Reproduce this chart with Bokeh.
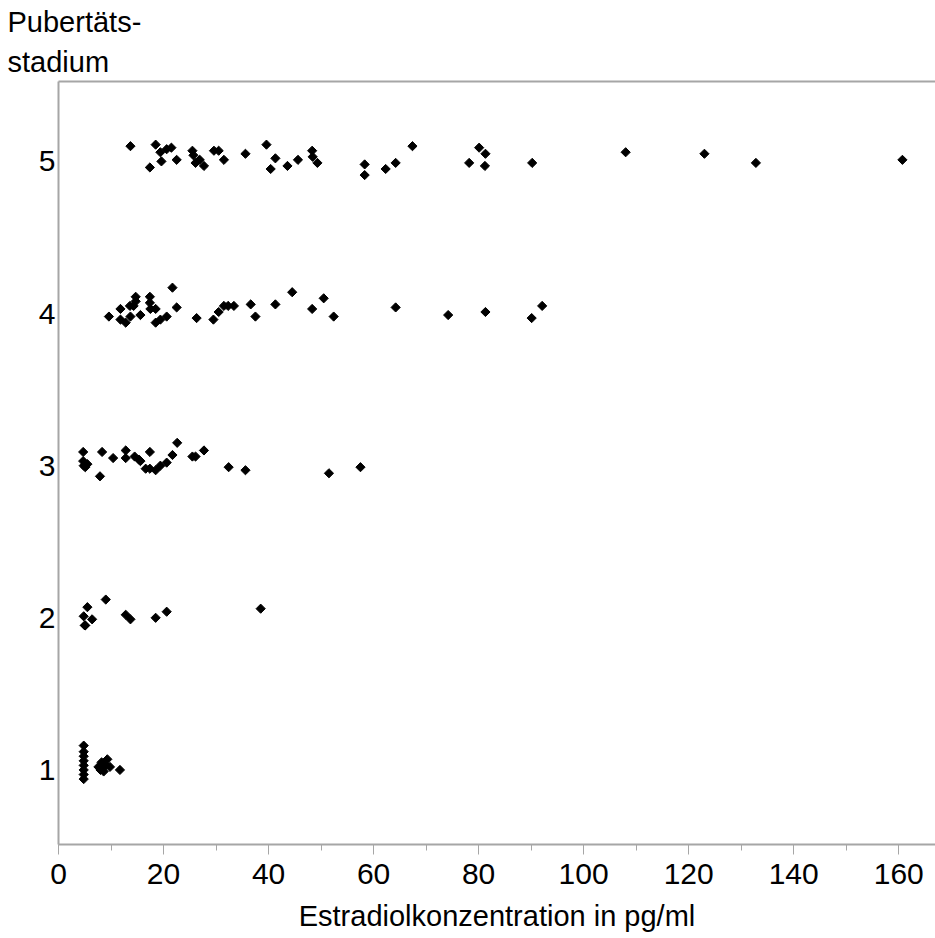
import numpy as np
from bokeh.plotting import figure
from bokeh.models import Range1d, FixedTicker, SingleIntervalTicker, Title, LinearAxis, ColumnDataSource
from bokeh.embed import file_html
from bokeh.resources import INLINE

# Estradiol concentration (pg/ml) per pubertal stage, with vertical jitter positions as drawn
stage1_x = [4.8, 4.8, 4.8, 4.8, 4.8, 4.8, 4.8, 4.8, 7.6, 8.2, 8.6, 9.0, 9.3, 9.8, 8.0, 11.7]
stage1_y = [1.16, 1.12, 1.09, 1.06, 1.03, 1.00, 0.97, 0.94, 1.02, 1.05, 0.99, 1.03, 1.07, 1.02, 1.00, 1.00]

stage2_x = [5.5, 4.8, 5.0, 5.1, 6.4, 9.0, 12.8, 13.7, 18.5, 20.6, 38.5]
stage2_y = [2.07, 2.01, 1.95, 1.95, 1.99, 2.12, 2.02, 1.99, 2.00, 2.04, 2.06]

stage3_x = [4.7, 4.7, 4.8, 5.1, 5.5, 7.9, 8.3, 10.4, 12.8, 12.8, 14.5, 15.3, 15.6, 16.6,
            17.4, 18.5, 17.4, 19.4, 20.6, 21.7, 22.6, 25.5, 26.1, 27.7, 32.4, 35.6, 51.5, 57.5]
stage3_y = [3.09, 3.03, 3.00, 2.99, 3.01, 2.93, 3.09, 3.05, 3.10, 3.05, 3.06, 3.04, 3.03, 2.98,
            2.98, 2.97, 3.09, 3.00, 3.02, 3.07, 3.15, 3.06, 3.06, 3.10, 2.99, 2.97, 2.95, 2.99]

stage4_x = [9.6, 11.8, 11.8, 12.8, 13.7, 13.6, 14.7, 14.7, 15.6, 14.3, 17.4, 17.4, 17.5, 18.5,
            18.5, 19.4, 20.6, 21.7, 22.5, 26.3, 29.5, 30.5, 31.5, 32.3, 33.4, 36.6, 37.5, 41.3,
            44.5, 48.3, 50.5, 52.4, 64.2, 74.2, 81.3, 90.1, 92.1]
stage4_y = [3.98, 4.03, 3.96, 3.94, 3.98, 4.05, 4.11, 4.08, 3.99, 4.05, 4.11, 4.07, 4.03, 4.03,
            3.94, 3.96, 3.98, 4.17, 4.04, 3.97, 3.96, 4.01, 4.05, 4.05, 4.05, 4.06, 3.98, 4.06,
            4.14, 4.03, 4.10, 3.98, 4.04, 3.99, 4.01, 3.97, 4.05]

stage5_x = [13.7, 18.5, 19.4, 20.6, 21.5, 19.6, 22.5, 17.4, 25.5, 25.7, 26.1, 26.9, 27.7, 29.6,
            30.5, 31.5, 35.6, 39.6, 41.3, 40.4, 43.6, 45.6, 48.3, 48.4, 49.3, 58.3, 58.3, 62.3,
            64.2, 67.4, 78.2, 80.1, 81.3, 81.2, 90.2, 108.0, 123.0, 132.8, 160.7]
stage5_y = [5.10, 5.11, 5.06, 5.08, 5.09, 5.00, 5.01, 4.96, 5.07, 5.04, 4.99, 5.01, 4.97, 5.07,
            5.07, 5.01, 5.05, 5.11, 5.02, 4.95, 4.97, 5.01, 5.07, 5.03, 4.99, 4.98, 4.91, 4.95,
            4.99, 5.10, 4.99, 5.09, 5.05, 4.97, 4.99, 5.06, 5.05, 4.99, 5.01]

y_ticks = [1, 2, 3, 4, 5]
x_label = "Estradiolkonzentration in pg/ml"
y_title = ["Pubertäts-", "stadium"]

FONT = "Liberation Sans"
GRAY = "#a6a6a6"

p = figure(width=935, height=934, output_backend="svg", toolbar_location=None,
           x_range=Range1d(0, 167), y_range=Range1d(0.51, 5.525),
           min_border_left=58, min_border_right=0, min_border_top=0, min_border_bottom=0,
           background_fill_color="white", border_fill_color="white")
p.outline_line_color = None
p.grid.visible = False

xs = stage1_x + stage2_x + stage3_x + stage4_x + stage5_x
ys = stage1_y + stage2_y + stage3_y + stage4_y + stage5_y
src = ColumnDataSource(dict(x=xs, y=ys))
p.scatter("x", "y", source=src, marker="square", angle=np.pi / 4, size=6.5,
          fill_color="black", line_color="black", line_width=1)

# x axis
xa = p.xaxis[0]
xa.ticker = SingleIntervalTicker(interval=20, num_minor_ticks=2)
xa.axis_line_color = GRAY
xa.axis_line_width = 2
xa.major_tick_line_color = GRAY
xa.major_tick_line_width = 1
xa.major_tick_in = 0
xa.major_tick_out = 10
xa.minor_tick_line_color = GRAY
xa.minor_tick_in = 0
xa.minor_tick_out = 6
xa.major_label_text_font = FONT
xa.major_label_text_font_size = "30px"
xa.major_label_text_color = "black"
xa.major_label_standoff = 9
xa.axis_label = x_label
xa.axis_label_text_font = FONT
xa.axis_label_text_font_size = "29px"
xa.axis_label_text_font_style = "normal"
xa.axis_label_text_color = "black"
xa.axis_label_standoff = 13

# y axis
ya = p.yaxis[0]
ya.ticker = FixedTicker(ticks=y_ticks)
ya.axis_line_color = GRAY
ya.axis_line_width = 2
ya.major_tick_line_color = None
ya.minor_tick_line_color = None
ya.major_tick_in = 0
ya.major_tick_out = 0
ya.major_label_text_font = FONT
ya.major_label_text_font_size = "30px"
ya.major_label_text_color = "black"
ya.major_label_standoff = 3

# top frame line
top = LinearAxis(axis_line_color=GRAY, axis_line_width=2,
                 major_tick_line_color=None, minor_tick_line_color=None,
                 major_tick_out=0, major_tick_in=0,
                 major_label_text_font_size="0px", major_label_standoff=0)
top.ticker = FixedTicker(ticks=[])
p.add_layout(top, "above")

# title lines (first added is closest to the plot)
p.add_layout(Title(text=y_title[1], align="left", offset=-51, text_font=FONT, text_font_size="29px",
                   text_font_style="normal", text_color="black", standoff=7), "above")
p.add_layout(Title(text=y_title[0], align="left", offset=-51, text_font=FONT, text_font_size="29px",
                   text_font_style="normal", text_color="black", standoff=6), "above")

open("out.html", "w").write(file_html(p, INLINE))
